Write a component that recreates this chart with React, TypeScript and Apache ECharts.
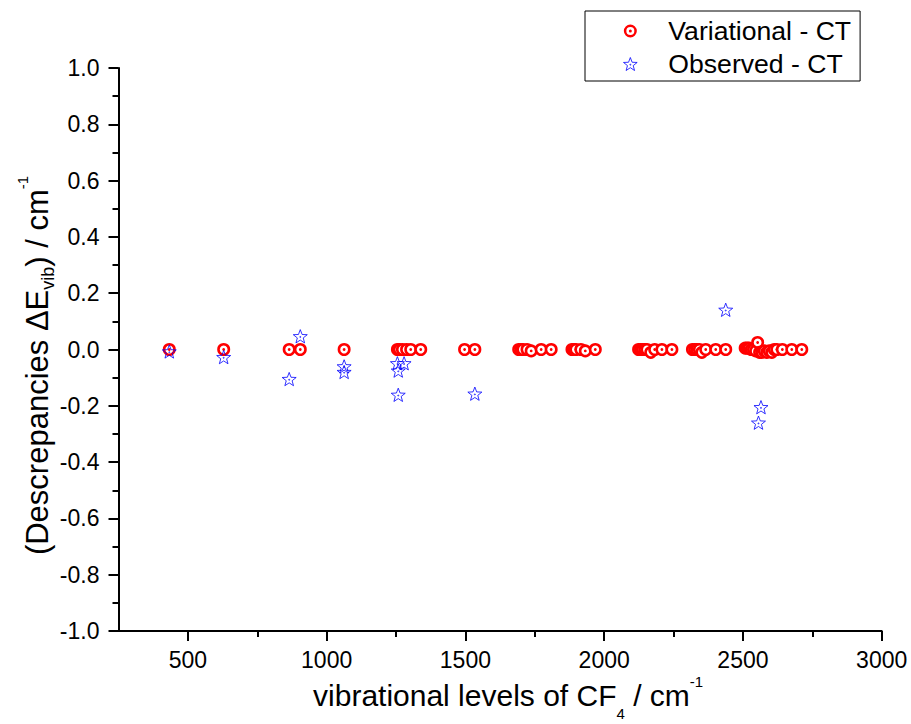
import React, { useEffect, useRef } from 'react';
import * as echarts from 'echarts';

// Variational - CT (red circles)
const variationalX = [
  433, 629, 865, 905, 1063,
  1255, 1262, 1273, 1288, 1303, 1339,
  1497, 1534,
  1692, 1700, 1707, 1722, 1737, 1773, 1809,
  1884, 1891, 1898, 1916, 1932, 1968,
  2124, 2131, 2138, 2146, 2154, 2168, 2182, 2208, 2244,
  2318, 2326, 2334, 2343, 2352, 2366, 2402, 2438,
  2508, 2515, 2522, 2530, 2538, 2546, 2553, 2560, 2568, 2577, 2586, 2595, 2604, 2613, 2622, 2642, 2676, 2712,
];
const variationalY = [
  0, 0, 0, 0, 0,
  0, 0, 0, 0, 0, 0,
  0, 0,
  0, 0, 0, 0, -0.005, 0, 0,
  0, 0, 0, 0, -0.005, 0,
  0, 0, 0, 0, 0, -0.01, 0, 0, 0,
  0, 0, 0, 0, -0.01, 0, 0, 0,
  0.005, 0.005, 0.005, 0, 0, -0.005, 0.025, -0.01, -0.01, -0.005, -0.01, -0.005, -0.01, 0, 0, 0, 0, 0,
];

// Observed - CT (blue stars)
const observedX = [433, 629, 865, 905, 1063, 1063, 1255, 1279, 1258, 1258, 1534, 2438, 2565, 2556];
const observedY = [-0.007, -0.027, -0.105, 0.047, -0.06, -0.08, -0.049, -0.049, -0.075, -0.161, -0.157, 0.141, -0.205, -0.26];

const xTickValues = [500, 1000, 1500, 2000, 2500, 3000];
const xMinorTickValues = [750, 1250, 1750, 2250, 2750];

const FONT = "'Liberation Sans', Arial, Helvetica, sans-serif";
const RING_PATH =
  'path://M13,0A13,13 0 1,1 13,26A13,13 0 1,1 13,0Z M13,5A8,8 0 1,0 13,21A8,8 0 1,0 13,5Z M13,10A3,3 0 1,1 13,16A3,3 0 1,1 13,10Z';
const STAR_PATH =
  'path://M10,0L12.469,6.602L19.511,6.91L13.994,11.298L15.878,18.09L10,14.2L4.122,18.09L6.006,11.298L0.489,6.91L7.531,6.602Z M10,9.3A0.7,0.7 0 1,1 10,10.7A0.7,0.7 0 1,1 10,9.3Z';

export default function App() {
  const ref = useRef<HTMLDivElement>(null);

  useEffect(() => {
    if (!ref.current) return;
    const chart = echarts.init(ref.current, undefined, { renderer: 'svg' });

    const variationalData = variationalX.map((x, i) => [x, variationalY[i]]);
    const observedData = observedX.map((x, i) => [x, observedY[i]]);

    const blackLine = { color: '#000', width: 2 };

    const option: any = {
      animation: false,
      backgroundColor: '#fff',
      grid: { left: 118.5, right: 29.3, top: 68, bottom: 93, containLabel: false, outerBoundsMode: 'none' },
      legend: {
        show: true,
        orient: 'vertical',
        left: 585,
        top: 11,
        padding: [5, 9, 2, 38],
        itemWidth: 66,
        itemHeight: 13,
        itemGap: 3,
        borderColor: '#000',
        borderWidth: 1,
        borderRadius: 0,
        backgroundColor: '#fff',
        selectedMode: false,
        textStyle: { fontSize: 26.6, fontFamily: FONT, color: '#000', lineHeight: 30 },
        data: [
          { name: 'Variational - CT', icon: RING_PATH, itemStyle: { color: '#ff0000', borderWidth: 0 } },
          {
            name: 'Observed - CT',
            icon: STAR_PATH,
            itemStyle: { color: 'rgba(255,255,255,0)', borderColor: '#0000ff', borderWidth: 1 },
          },
        ],
      },
      xAxis: [
        {
          type: 'value',
          min: 250,
          max: 3000,
          position: 'bottom',
          offset: 0,
          name: '{m|vibrational levels of CF}{sub|4}{m| / cm}{sup|-1}',
          nameLocation: 'middle',
          nameGap: 43,
          nameMoveOverlap: false,
          nameTextStyle: {
            fontFamily: FONT,
            color: '#000',
            padding: [0, 0, 0, 16],
            rich: {
              m: { fontSize: 30, lineHeight: 34, padding: [6, 0, 0, 0], verticalAlign: 'top', fontFamily: FONT, color: '#000' },
              sub: { fontSize: 15, lineHeight: 15, padding: [31.5, 0, 0, 0], verticalAlign: 'top', fontFamily: FONT, color: '#000' },
              sup: { fontSize: 15, lineHeight: 15, padding: [0, 0, 0, 0], verticalAlign: 'top', fontFamily: FONT, color: '#000' },
            },
          },
          axisLine: { show: true, onZero: false, lineStyle: blackLine },
          axisTick: { show: true, inside: false, length: 10, lineStyle: blackLine, customValues: xTickValues },
          axisLabel: {
            show: true,
            customValues: xTickValues,
            margin: 17,
            fontSize: 23,
            lineHeight: 23,
            fontFamily: FONT,
            color: '#000',
            formatter: (v: number) => String(v),
          },
          splitLine: { show: false },
        },
        {
          type: 'value',
          min: 250,
          max: 3000,
          position: 'bottom',
          offset: 0,
          axisLine: { show: false, onZero: false },
          axisLabel: { show: false },
          axisTick: { show: true, inside: false, length: 6, lineStyle: blackLine, customValues: xMinorTickValues },
          splitLine: { show: false },
        },
      ],
      yAxis: {
        type: 'value',
        min: -1,
        max: 1,
        interval: 0.2,
        position: 'left',
        name: '{m|(Descrepancies ΔE}{sub|vib}{m|) / cm}{sup|-1}',
        nameLocation: 'middle',
        nameGap: 69.8,
        nameRotate: 90,
        nameMoveOverlap: false,
        nameTextStyle: {
          fontFamily: FONT,
          color: '#000',
          padding: [0, 32, 0, 0],
          rich: {
            m: { fontSize: 31, lineHeight: 34, padding: [7.3, 0, 0, 0], verticalAlign: 'top', fontFamily: FONT, color: '#000' },
            sub: { fontSize: 18, lineHeight: 18, padding: [24, 0, 0, 0], verticalAlign: 'top', fontFamily: FONT, color: '#000' },
            sup: { fontSize: 15, lineHeight: 15, padding: [0, 0, 0, 0], verticalAlign: 'top', fontFamily: FONT, color: '#000' },
          },
        },
        axisLine: { show: true, onZero: false, lineStyle: blackLine },
        axisTick: { show: true, inside: false, length: 10, lineStyle: blackLine },
        minorTick: { show: true, splitNumber: 2, length: 6, lineStyle: blackLine },
        axisLabel: {
          margin: 19,
          fontSize: 23,
          fontFamily: FONT,
          color: '#000',
          formatter: (v: number) => {
            const r = Math.round(v * 10) / 10;
            return (r === 0 ? 0 : r).toFixed(1);
          },
        },
        splitLine: { show: false },
        minorSplitLine: { show: false },
      },
      series: [
        {
          name: 'Variational - CT',
          type: 'custom',
          coordinateSystem: 'cartesian2d',
          xAxisIndex: 0,
          yAxisIndex: 0,
          itemStyle: { color: '#ff0000' },
          encode: { x: 0, y: 1 },
          data: variationalData,
          renderItem: (params: any, api: any) => {
            const p = api.coord([api.value(0), api.value(1)]);
            return {
              type: 'group',
              children: [
                {
                  type: 'circle',
                  shape: { cx: p[0], cy: p[1], r: 5.2 },
                  style: { fill: '#fff', stroke: '#ff0000', lineWidth: 2.6 },
                },
                {
                  type: 'circle',
                  shape: { cx: p[0], cy: p[1], r: 1.4 },
                  style: { fill: '#ff0000' },
                },
              ],
            };
          },
        },
        {
          name: 'Observed - CT',
          type: 'scatter',
          xAxisIndex: 0,
          yAxisIndex: 0,
          data: observedData,
          symbol: STAR_PATH,
          symbolSize: 14,
          symbolKeepAspect: true,
          itemStyle: { color: 'rgba(255,255,255,0)', borderColor: '#0000ff', borderWidth: 1 },
        },
      ],
    };

    chart.setOption(option);
    return () => {
      chart.dispose();
    };
  }, []);

  return (
    <div
      ref={ref}
      style={{ position: 'fixed', left: 0, top: 0, width: 911, height: 724, background: '#fff' }}
    />
  );
}
